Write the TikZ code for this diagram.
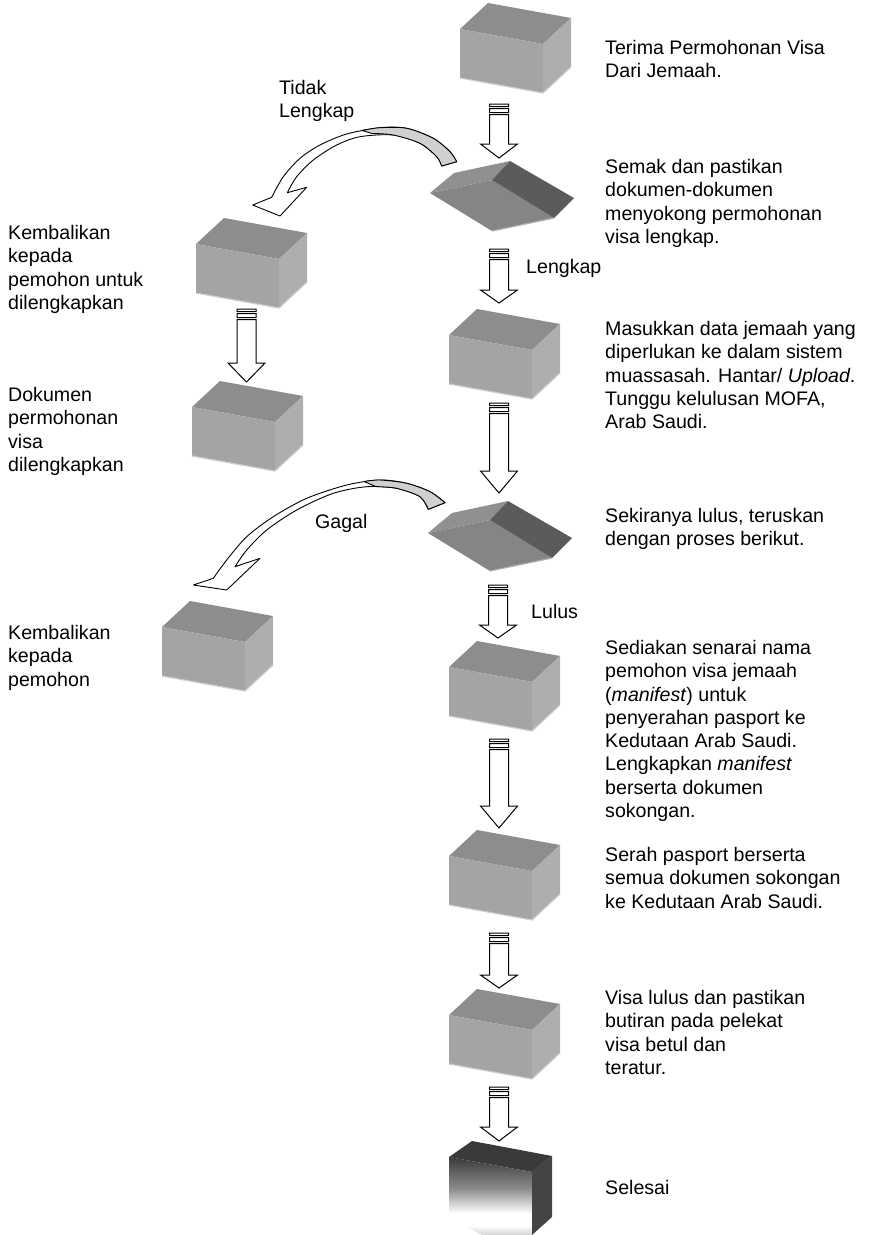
\documentclass[tikz,border=0pt]{standalone}
\usepackage{fontspec}
\setmainfont{Liberation Sans}
\usetikzlibrary{calc}

\definecolor{cubetopc}{HTML}{8D8D8D}
\definecolor{cubefrontc}{HTML}{A4A4A4}
\definecolor{cuberightc}{HTML}{AEAEAE}
\definecolor{cubeedgec}{HTML}{CDCDCD}
\definecolor{slabtopc}{HTML}{909090}
\definecolor{slabfrontc}{HTML}{858585}
\definecolor{slabsidec}{HTML}{5B5B5B}
\definecolor{slabedgec}{HTML}{B0B0B0}
\definecolor{ribbongrayc}{HTML}{D0D0D0}
\definecolor{fintopc}{HTML}{3A3A3A}
\definecolor{finmidc}{HTML}{8A8A8A}
\definecolor{finlowc}{HTML}{D4D4D4}

\pgfdeclareverticalshading{finfront}{100bp}{color(0bp)=(finlowc); color(25bp)=(finlowc);
  color(31bp)=(white); color(39bp)=(white); color(55bp)=(finmidc); color(75bp)=(fintopc);
  color(100bp)=(fintopc)}

\tikzset{
  slot/.style={inner sep=0pt, outer sep=0pt, anchor=north west, draw=none},
  txt/.style={font=\fontsize{19.6}{23.3}\selectfont, align=left, inner sep=0pt, anchor=north west},
  blockarrow/.style={draw=black, fill=white, line width=1pt, line join=miter},
  ribbon/.style={draw=black, fill=white, line width=0.9pt, line join=round},
  ribbongray/.style={draw=black, fill=ribbongrayc, line width=0.9pt, line join=round},
}

% grey box, given by the top-left corner of its front face
\newcommand\flowcube[3]{%
  \begin{scope}[shift={(#2,#3)}]
    \node[slot, minimum width=111pt, minimum height=90pt] (#1) at (0,-26) {};
    \fill[cubetopc] (0,0) -- (28,-26) -- (111,-11) -- (83,15) -- cycle;
    \fill[cubefrontc] (0,0) -- (83,15) -- (83,64) -- (0,49) -- cycle;
    \fill[cuberightc] (83,15) -- (111,-11) -- (111,38) -- (83,64) -- cycle;
    \draw[cubeedgec, line width=1.2pt] (0,49) -- (83,64) -- (111,38);
  \end{scope}}

% flat decision slab, given by the top-left corner of its bounding box
\newcommand\flowslab[3]{%
  \begin{scope}[shift={(#2,#3)}]
    \node[slot, minimum width=144pt, minimum height=70pt] (#1) at (0,0) {};
    \fill[slabfrontc] (0,32) -- (62,19) -- (124,57) -- (62,70) -- cycle;
    \fill[slabtopc] (0,32) -- (24,12) -- (80,0) -- (62,19) -- cycle;
    \fill[slabsidec] (62,19) -- (80,0) -- (144,37) -- (124,57) -- cycle;
    \draw[slabedgec, line width=1.2pt] (62,70) -- (124,57);
  \end{scope}}

% striped block arrow: from node, to node, axis x, gap below, gap above, head length
\newcommand\flowarrow[6]{%
  \draw[blockarrow] let \p1=(#1.south), \p2=(#2.north), \p3=(#3,0) in
    (\x3-9.5pt,\y1-#4pt) rectangle (\x3+9.5pt,\y1-#4pt-2.5pt)
    (\x3-9.5pt,\y1-#4pt-4.5pt) rectangle (\x3+9.5pt,\y1-#4pt-8.5pt)
    (\x3-9.5pt,\y1-#4pt-10.5pt) -- (\x3-9.5pt,\y2+#5pt+#6pt)
    -- (\x3-18.5pt,\y2+#5pt+#6pt) -- (\x3,\y2+#5pt)
    -- (\x3+18.5pt,\y2+#5pt+#6pt) -- (\x3+9.5pt,\y2+#5pt+#6pt)
    -- (\x3+9.5pt,\y1-#4pt-10.5pt) -- cycle;}

\begin{document}
\begin{tikzpicture}[x=1pt,y=-1pt]
  \useasboundingbox[fill=white] (0,0) rectangle (869,1235);

  % main column
  \flowcube{b1}{460}{29}
  \flowslab{d1}{430}{161}
  \flowcube{b2}{449}{335}
  \flowslab{d2}{428}{501}
  \flowcube{b3}{449}{667}
  \flowcube{b4}{449}{856}
  \flowcube{b5}{449}{1015}

  % end block with shaded front
  \begin{scope}[shift={(449,1157)}]
    \node[slot, minimum width=103pt, minimum height=94pt] (fin) at (0,-16) {};
    \fill[fintopc] (0,0) -- (23,-16) -- (103,-1) -- (83,15) -- cycle;
    \shade[shading=finfront] (0,0) -- (83,15) -- (83,78) -- (33,78) -- (0,60) -- cycle;
    \fill[fintopc!95!white] (83,15) -- (103,-1) -- (103,60) -- (83,78) -- cycle;
  \end{scope}

  % side branch
  \flowcube{l1}{196}{244}
  \flowcube{l2}{192}{407}
  \flowcube{l3}{162}{627}

  % straight connectors
  \flowarrow{b1}{d1}{499}{11}{3}{14}
  \flowarrow{d1}{b2}{499}{18}{6}{13}
  \flowarrow{b2}{d2}{499}{4}{8}{22}
  \flowarrow{d2}{b3}{498}{14}{3}{13}
  \flowarrow{b3}{b4}{499}{8}{2}{22}
  \flowarrow{b4}{b5}{499}{13}{1}{13}
  \flowarrow{b5}{fin}{499}{8}{0}{14}
  \flowarrow{l1}{l2}{246.5}{1}{-1}{19}

  % curved ribbon arrow: incomplete documents
  \draw[ribbon] (252.7,205) -- (271.7,197.3)
    -- plot[smooth] coordinates {(271.7,197.3) (283.3,176.7) (300,158.3) (320,145) (346.7,134)
        (380,127.7) (406.7,128.3) (433.3,138.3) (450,151.7) (456.7,161.7)}
    -- (441.7,166)
    -- plot[smooth] coordinates {(441.7,166) (436.7,156.7) (420,143.3) (393.3,135) (360,136.7)
        (336.7,145) (313.3,160) (296.7,176.7) (287.3,192.7)}
    -- (306.7,187.3) -- (280,216) -- cycle;
  \draw[ribbongray] plot[smooth] coordinates {(362,130.5) (380,127.7) (406.7,128.3) (433.3,138.3)
        (450,151.7) (456.7,161.7)}
    -- (441.7,166)
    -- plot[smooth] coordinates {(441.7,166) (436.7,156.7) (420,143.3) (393.3,135) (372,133.5)}
    -- cycle;

  % curved ribbon arrow: rejected
  \draw[ribbon] (193.3,585) -- (213.3,578.3)
    -- plot[smooth] coordinates {(213.3,578.3) (226.7,560) (246.7,536.7) (273.3,516.7) (306.7,498.3)
        (346.7,485) (380,480) (406.7,483.3) (430,491.7) (445,502.7)}
    -- (428.3,509.3)
    -- plot[smooth] coordinates {(428.3,509.3) (420,496.7) (396.7,488.3) (366.7,486.7) (333.3,493.3)
        (296.7,510) (266.7,530) (246.7,550) (235,566.7)}
    -- (260,558.3) -- (226.7,590) -- cycle;
  \draw[ribbongray] plot[smooth] coordinates {(364,481.5) (380,480) (406.7,483.3) (430,491.7) (445,502.7)}
    -- (428.3,509.3)
    -- plot[smooth] coordinates {(428.3,509.3) (420,496.7) (396.7,488.3) (376,486.6)}
    -- cycle;

  % descriptions
  \node[txt] (t1) at (605,40) {Terima Permohonan Visa\\Dari Jemaah.};
  \node[txt] (t2) at (605,159) {Semak dan pastikan\\dokumen-dokumen\\menyokong permohonan\\visa lengkap.};
  \node[txt] (t3) at (605,321) {Masukkan data jemaah yang\\diperlukan ke dalam sistem\\muassasah. Hantar/ \textit{Upload}.\\Tunggu kelulusan MOFA,\\Arab Saudi.};
  \node[txt] (t4) at (605,508) {Sekiranya lulus, teruskan\\dengan proses berikut.};
  \node[txt] (t5) at (605,640) {Sediakan senarai nama\\pemohon visa jemaah\\(\textit{manifest}) untuk\\penyerahan pasport ke\\Kedutaan Arab Saudi.\\Lengkapkan \textit{manifest}\\berserta dokumen\\sokongan.};
  \node[txt] (t6) at (605,847) {Serah pasport berserta\\semua dokumen sokongan\\ke Kedutaan Arab Saudi.};
  \node[txt] (t7) at (605,990) {Visa lulus dan pastikan\\butiran pada pelekat\\visa betul dan\\teratur.};
  \node[txt] (t8) at (605,1180) {Selesai};

  \node[txt] (s1) at (8,225) {Kembalikan\\kepada\\pemohon untuk\\dilengkapkan};
  \node[txt] (s2) at (8,387) {Dokumen\\permohonan\\visa\\dilengkapkan};
  \node[txt] (s3) at (8,625) {Kembalikan\\kepada\\pemohon};

  % connector labels
  \node[txt] (lbl1) at (279,80) {Tidak\\Lengkap};
  \node[txt] (lbl2) at (315,514) {Gagal};
  \node[txt] (lbl3) at (526,259) {Lengkap};
  \node[txt] (lbl4) at (531,604) {Lulus};
\end{tikzpicture}
\end{document}
